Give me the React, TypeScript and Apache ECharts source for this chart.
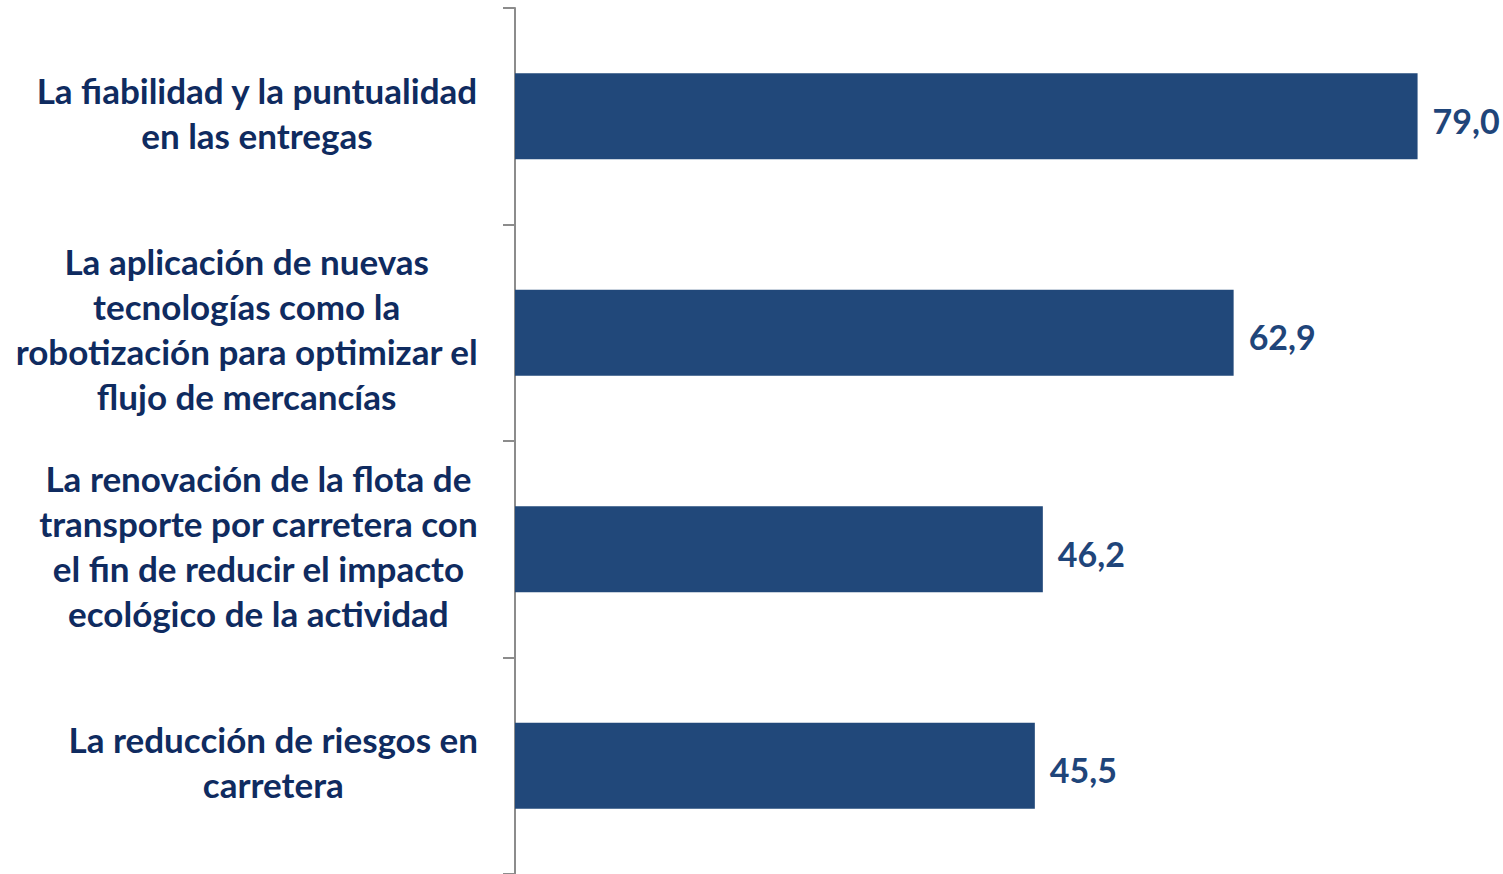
import React, { useEffect, useRef } from "react";
import * as echarts from "echarts";

const categories: string[] = [
  "La fiabilidad y la puntualidad\nen las entregas",
  "La aplicación de nuevas\ntecnologías como la\nrobotización para optimizar el\nflujo de mercancías",
  "La renovación de la flota de\ntransporte por carretera con\nel fin de reducir el impacto\necológico de la actividad",
  "La reducción de riesgos en\ncarretera",
];
const values: number[] = [79.0, 62.9, 46.2, 45.5];

const FONT_FAMILY = "Lato";
const FONT_SIZE = 35;
const FONT_WEIGHT = "bold";

function measure(text: string): number {
  const c = document.createElement("canvas");
  const ctx = c.getContext("2d")!;
  ctx.font = `${FONT_WEIGHT} ${FONT_SIZE}px ${FONT_FAMILY}`;
  return ctx.measureText(text).width;
}

export default function App() {
  const ref = useRef<HTMLDivElement>(null);
  useEffect(() => {
    if (!ref.current) return;
    const chart = echarts.init(ref.current, null, { renderer: "svg" });
    const rich: Record<string, any> = {};
    categories.forEach((cat, i) => {
      const w = Math.max(...cat.split("\n").map(measure)) + 2;
      rich["l" + i] = {
        width: w,
        align: "center",
        fontFamily: FONT_FAMILY,
        fontSize: FONT_SIZE,
        fontWeight: FONT_WEIGHT,
        color: "#0f2b60",
        lineHeight: 45,
      };
    });
    chart.setOption({
      animation: false,
      grid: { left: 515, top: 8, width: 914, height: 870, containLabel: false },
      xAxis: {
        type: "value",
        min: 0,
        max: 80,
        show: false,
      },
      yAxis: {
        type: "category",
        data: categories,
        inverse: true,
        axisLine: { show: true, lineStyle: { color: "#8c8c8c", width: 2 } },
        axisTick: { show: true, length: 12, lineStyle: { color: "#8c8c8c", width: 2 } },
        splitLine: { show: false },
        axisLabel: {
          margin: 36,
          align: "right",
          padding: [0, 0, 8, 0],
          formatter: (v: string, idx: number) =>
            v.split("\n").map((l) => `{l${idx}|${l}}`).join("\n"),
          rich,
        },
      },
      series: [
        {
          type: "bar",
          data: values,
          barWidth: 86,
          itemStyle: { color: "#21487a" },
          label: {
            show: true,
            position: "right",
            distance: 15,
            offset: [0, 4],
            formatter: (p: any) => p.value.toFixed(1).replace(".", ","),
            fontFamily: FONT_FAMILY,
            fontSize: 34,
            fontWeight: FONT_WEIGHT,
            color: "#1f457a",
          },
        },
      ],
    });
    return () => chart.dispose();
  }, []);
  return (
    <div
      ref={ref}
      style={{ position: "absolute", left: 0, top: 0, width: 1503, height: 874, background: "#ffffff" }}
    />
  );
}
